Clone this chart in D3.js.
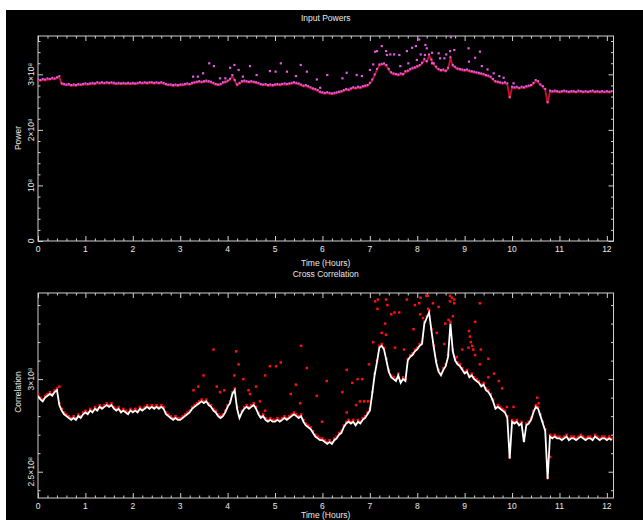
<!DOCTYPE html>
<html>
<head>
<meta charset="utf-8">
<script src="https://cdn.jsdelivr.net/npm/d3@7"></script>
<style>
  body { margin: 0; background: #fff; }
  text { font-family: "Liberation Sans", Arial, sans-serif; fill: #e8e8e8; }
</style>
</head>
<body>
<script>
// samples every 0.05 h, values in units of 1e8
const sampleStep = 0.05;

const powerLine = [
  2.89, 2.88, 2.90, 2.89, 2.91, 2.90, 2.92, 2.91, 2.93, 2.95, 2.82, 2.81, 2.80, 2.81, 2.79, 2.80, 2.79, 2.81, 2.80, 2.81,
  2.82, 2.81, 2.82, 2.83, 2.82, 2.84, 2.83, 2.84, 2.83, 2.84, 2.83, 2.84, 2.83, 2.82, 2.83, 2.82, 2.83, 2.82, 2.83, 2.82,
  2.83, 2.82, 2.83, 2.84, 2.83, 2.84, 2.83, 2.84, 2.84, 2.83, 2.84, 2.83, 2.84, 2.83, 2.81, 2.80, 2.80, 2.79, 2.80, 2.79,
  2.80, 2.80, 2.81, 2.82, 2.81, 2.83, 2.84, 2.85, 2.86, 2.85, 2.86, 2.87, 2.86, 2.85, 2.83, 2.81, 2.80, 2.81, 2.84, 2.85,
  2.87, 2.90, 2.97, 2.88, 2.80, 2.83, 2.86, 2.87, 2.86, 2.85, 2.86, 2.85, 2.84, 2.83, 2.81, 2.80, 2.81, 2.79, 2.80, 2.79,
  2.80, 2.81, 2.80, 2.81, 2.82, 2.81, 2.82, 2.83, 2.84, 2.83, 2.82, 2.80, 2.78, 2.79, 2.77, 2.75, 2.73, 2.72, 2.70, 2.67,
  2.66, 2.65, 2.66, 2.65, 2.64, 2.65, 2.66, 2.67, 2.68, 2.70, 2.72, 2.71, 2.73, 2.75, 2.74, 2.76, 2.75, 2.77, 2.78, 2.79,
  2.83, 2.89, 2.98, 3.08, 3.16, 3.17, 3.18, 3.15, 3.08, 3.02, 3.00, 2.99, 2.98, 3.00, 2.99, 3.04, 3.05, 3.08, 3.10, 3.11,
  3.13, 3.15, 3.19, 3.26, 3.22, 3.34, 3.25, 3.18, 3.12, 3.08, 3.06, 3.07, 3.05, 3.10, 3.29, 3.15, 3.12, 3.09, 3.08, 3.07,
  3.06, 3.07, 3.05, 3.04, 3.03, 3.02, 3.01, 3.00, 2.99, 2.97, 2.96, 2.94, 2.90, 2.86, 2.85, 2.84, 2.83, 2.84, 2.82, 2.57,
  2.76, 2.75, 2.76, 2.74, 2.76, 2.75, 2.77, 2.78, 2.79, 2.83, 2.88, 2.86, 2.80, 2.77, 2.72, 2.48, 2.69, 2.68, 2.69, 2.68,
  2.67, 2.68, 2.69, 2.68, 2.67, 2.68, 2.68, 2.67, 2.69, 2.68, 2.67, 2.68, 2.67, 2.68, 2.69, 2.67, 2.68, 2.67, 2.68, 2.67,
  2.68, 2.67, 2.68
];

const powerOutT = [3.61, 3.71, 4.05, 4.14, 4.47, 4.23, 4.89, 5.01, 5.12, 5.25, 5.54, 5.67, 5.88, 6.10, 3.27, 3.37, 3.48,
  3.84, 3.95, 4.32, 4.61, 5.44, 5.95, 7.25, 7.11, 7.15, 7.34, 7.36, 7.43, 7.51, 7.62, 7.78, 7.89, 7.97, 8.04, 8.07, 8.17,
  8.20, 8.31, 8.45, 8.57, 8.69, 8.78, 8.71, 9.08, 9.22, 9.32, 9.09, 9.36, 9.48, 9.61, 9.73, 9.82, 10.03, 7.07, 7.00, 6.83,
  6.72, 6.51, 6.42, 8.48, 8.61, 8.16, 7.99, 7.64, 7.81, 8.31];
const powerOutV = [3.20, 3.15, 3.12, 3.17, 3.15, 3.08, 3.06, 3.05, 3.20, 3.05, 3.17, 3.05, 2.91, 2.99, 2.96, 2.96, 3.02,
  2.93, 2.93, 2.96, 2.99, 2.97, 2.76, 3.51, 3.41, 3.42, 3.42, 3.35, 3.36, 3.36, 3.35, 3.42, 3.48, 3.51, 3.63, 3.36, 3.53,
  3.47, 3.39, 3.38, 3.29, 3.42, 3.44, 3.67, 3.47, 3.30, 3.41, 3.23, 3.15, 3.09, 3.02, 2.97, 2.94, 2.84, 3.18, 3.08, 2.97,
  2.99, 3.03, 2.93, 3.29, 3.36, 3.35, 3.26, 3.15, 3.20, 3.20];

const corrLine = [
  2.91, 2.89, 2.88, 2.90, 2.91, 2.92, 2.91, 2.93, 2.94, 2.86, 2.83, 2.81, 2.80, 2.79, 2.78, 2.79, 2.78, 2.80, 2.79, 2.81,
  2.82, 2.81, 2.83, 2.82, 2.84, 2.83, 2.85, 2.84, 2.85, 2.86, 2.85, 2.86, 2.84, 2.83, 2.84, 2.82, 2.83, 2.82, 2.81, 2.83,
  2.82, 2.83, 2.82, 2.84, 2.83, 2.84, 2.85, 2.84, 2.85, 2.84, 2.85, 2.84, 2.85, 2.84, 2.81, 2.80, 2.79, 2.78, 2.79, 2.78,
  2.78, 2.79, 2.80, 2.81, 2.82, 2.84, 2.85, 2.86, 2.87, 2.88, 2.87, 2.88, 2.86, 2.85, 2.83, 2.82, 2.80, 2.79, 2.80, 2.82,
  2.85, 2.87, 2.92, 2.94, 2.84, 2.79, 2.82, 2.84, 2.85, 2.84, 2.85, 2.86, 2.84, 2.81, 2.79, 2.80, 2.78, 2.77, 2.78, 2.77,
  2.77, 2.78, 2.77, 2.78, 2.79, 2.78, 2.79, 2.80, 2.81, 2.80, 2.79, 2.80, 2.77, 2.75, 2.74, 2.73, 2.71, 2.69, 2.68, 2.67,
  2.67, 2.66, 2.65, 2.66, 2.65, 2.67, 2.68, 2.70, 2.71, 2.74, 2.76, 2.77, 2.76, 2.77, 2.75, 2.77, 2.76, 2.78, 2.79, 2.81,
  2.83, 2.92, 3.02, 3.09, 3.17, 3.18, 3.16, 3.10, 3.04, 3.01, 3.00, 2.99, 3.02, 2.98, 3.00, 2.99, 3.10, 3.12, 3.13, 3.15,
  3.16, 3.18, 3.19, 3.30, 3.33, 3.36, 3.26, 3.17, 3.09, 3.04, 3.02, 3.05, 3.07, 3.12, 3.30, 3.15, 3.10, 3.08, 3.07, 3.05,
  3.03, 3.04, 3.01, 3.02, 3.00, 2.99, 2.98, 2.96, 2.97, 2.94, 2.93, 2.91, 2.88, 2.84, 2.85, 2.84, 2.83, 2.82, 2.79, 2.57,
  2.77, 2.76, 2.77, 2.75, 2.76, 2.66, 2.75, 2.76, 2.78, 2.82, 2.85, 2.84, 2.80, 2.76, 2.72, 2.46, 2.69, 2.68, 2.69, 2.68,
  2.68, 2.67, 2.68, 2.69, 2.67, 2.68, 2.68, 2.67, 2.68, 2.69, 2.68, 2.67, 2.68, 2.68, 2.67, 2.69, 2.68, 2.67, 2.68, 2.68,
  2.67, 2.68, 2.67
];

const corrOutT = [5.55, 5.67, 5.88, 5.99, 6.09, 6.42, 6.51, 6.63, 6.74, 6.84, 6.79, 6.71, 6.51, 6.88, 6.96, 6.98, 7.07,
  7.11, 7.17, 7.25, 7.34, 7.32, 7.34, 7.37, 7.45, 7.52, 7.62, 7.53, 7.72, 7.78, 7.92, 7.95, 8.04, 8.07, 8.06, 8.12, 8.19,
  8.22, 8.23, 8.33, 8.45, 8.41, 8.57, 8.59, 8.66, 8.69, 8.73, 8.78, 8.69, 8.78, 8.75, 8.83, 8.95, 9.09, 9.11, 9.13, 9.16,
  9.08, 9.18, 9.22, 9.22, 9.34, 9.32, 9.32, 9.50, 9.62, 9.72, 9.79, 9.50, 9.89, 10.03, 10.53, 10.56, 10.80, 7.16, 0.45,
  3.49, 3.38, 3.28, 3.77, 3.84, 3.93, 4.23, 4.14, 4.33, 4.44, 4.47, 4.60, 4.68, 4.79, 4.89, 5.02, 5.12, 5.33, 5.44, 5.53,
  4.79, 3.70, 4.18];
const corrOutV = [3.18, 3.06, 2.91, 2.77, 2.99, 2.93, 3.05, 2.98, 3.00, 3.00, 2.88, 2.86, 2.82, 2.88, 2.88, 3.08, 3.20,
  3.42, 3.43, 3.25, 3.24, 3.30, 3.43, 3.40, 3.35, 3.36, 3.36, 3.17, 3.16, 3.43, 3.27, 3.40, 3.41, 3.44, 3.35, 3.33, 3.45,
  3.45, 3.38, 3.41, 3.39, 3.25, 3.19, 3.30, 3.32, 3.45, 3.44, 3.43, 3.42, 3.41, 3.34, 3.12, 3.16, 3.26, 3.23, 3.20, 3.18,
  3.17, 3.16, 3.31, 3.13, 3.16, 3.41, 3.08, 3.11, 3.03, 2.99, 2.95, 3.01, 2.85, 2.85, 2.90, 2.87, 2.58, 3.38, 2.96,
  3.02, 2.96, 2.94, 2.96, 2.93, 2.94, 3.08, 3.02, 3.00, 2.94, 2.92, 2.96, 2.88, 3.02, 3.07, 3.07, 3.09, 2.92, 2.97, 2.87,
  2.83, 3.16, 3.15];

const timeDomain = [0, 12.14];
const xMajor = [0, 1, 2, 3, 4, 5, 6, 7, 8, 9, 10, 11, 12];
const powerDomain = [0, 3.69];
const powerTicks = [0, 1, 2, 3];
const powerTickLabels = ["0", "10⁸", "2×10⁸", "3×10⁸"];
const corrDomain = [2.358, 3.465];
const corrTicks = [2.5, 3];
const corrTickLabels = ["2.5×10⁸", "3×10⁸"];

const W = 643, H = 520;
const svg = d3.select("body").append("svg").attr("width", W).attr("height", H);
svg.append("rect").attr("x", 6).attr("y", 10).attr("width", W - 6).attr("height", H - 10).attr("fill", "#000");

const left = 38, right = 613.5;
const x = d3.scaleLinear().domain(timeDomain).range([left, right]);
const xMinor = d3.range(0, 12.15, 0.2).filter(v => Math.abs(v - Math.round(v)) > 0.01);

function panel(top, bottom, yDomain, yMajor, yLabels, yMinorStep, clipId) {
	const y = d3.scaleLinear().domain(yDomain).range([bottom, top]);
	const g = svg.append("g");
	const yMinor = d3.range(Math.ceil(yDomain[0] / yMinorStep) * yMinorStep, yDomain[1], yMinorStep)
		.filter(v => !yMajor.some(m => Math.abs(m - v) < 1e-6));

	const tickStyle = sel => {
		sel.select(".domain").remove();
		sel.selectAll("line").attr("stroke", "#d0d0d0");
	};
	const axes = [
		[d3.axisBottom(x), bottom, xMajor, xMinor, "x"],
		[d3.axisTop(x), top, xMajor, xMinor, "x"],
		[d3.axisLeft(y), left, yMajor, yMinor, "y"],
		[d3.axisRight(y), right, yMajor, yMinor, "y"]
	];
	axes.forEach(([ax, pos, major, minor, dir]) => {
		const tr = dir === "x" ? `translate(0,${pos})` : `translate(${pos},0)`;
		g.append("g").attr("transform", tr)
			.call(ax.tickValues(major).tickSize(-5).tickFormat(""))
			.call(tickStyle);
		g.append("g").attr("transform", tr)
			.call(ax.tickValues(minor).tickSize(-2.5).tickFormat(""))
			.call(tickStyle);
	});

	g.append("rect")
		.attr("x", left).attr("y", top)
		.attr("width", right - left).attr("height", bottom - top)
		.attr("fill", "none").attr("stroke", "#d0d0d0").attr("stroke-width", 1);

	// x tick labels
	g.selectAll(".xl").data(xMajor).join("text")
		.attr("x", d => x(d)).attr("y", bottom + 11)
		.attr("text-anchor", "middle").attr("font-size", "8.5px")
		.text(d => d);
	// y tick labels (rotated)
	g.selectAll(".yl").data(yMajor).join("text")
		.attr("transform", d => `translate(${left - 4},${y(d)}) rotate(-90)`)
		.attr("text-anchor", "middle").attr("font-size", "8.5px")
		.text((d, i) => yLabels[i]);

	svg.append("clipPath").attr("id", clipId)
		.append("rect").attr("x", left).attr("y", top - 3)
		.attr("width", right - left).attr("height", bottom - top + 3);

	const plot = svg.append("g").attr("clip-path", `url(#${clipId})`);
	return { y, plot };
}

// ---- top panel: input powers
const p1 = panel(36, 241, powerDomain, powerTicks, powerTickLabels, 0.2, "c1");
const line1 = d3.line().x((d, i) => x(i * sampleStep)).y(d => p1.y(d));
p1.plot.append("path").datum(powerLine)
	.attr("d", line1).attr("fill", "none")
	.attr("stroke", "#c8102e").attr("stroke-width", 1.8);
p1.plot.selectAll(".pm").data(powerLine).join("rect")
	.attr("x", (d, i) => x(i * sampleStep) - 1).attr("y", d => p1.y(d) - 2)
	.attr("width", 2).attr("height", 2).attr("fill", "#e35ce0");
p1.plot.selectAll(".po").data(powerOutV).join("rect")
	.attr("x", (d, i) => x(powerOutT[i]) - 1).attr("y", d => p1.y(d) - 1)
	.attr("width", 2.2).attr("height", 2.2).attr("fill", "#e35ce0");

// ---- bottom panel: cross correlation
const p2 = panel(293, 498, corrDomain, corrTicks, corrTickLabels, 0.1, "c2");
const line2 = d3.line().x((d, i) => x(i * sampleStep)).y(d => p2.y(d));
p2.plot.selectAll(".cm").data(corrLine).join("rect")
	.attr("x", (d, i) => x(i * sampleStep) - 1.2).attr("y", d => p2.y(d) - 3)
	.attr("width", 2.5).attr("height", 2.5).attr("fill", "#ff1010");
p2.plot.selectAll(".co").data(corrOutV).join("rect")
	.attr("x", (d, i) => x(corrOutT[i]) - 1.2).attr("y", d => p2.y(d) - 1.2)
	.attr("width", 2.5).attr("height", 2.5).attr("fill", "#ff1010");
p2.plot.append("path").datum(corrLine)
	.attr("d", line2).attr("fill", "none")
	.attr("stroke", "#ffffff").attr("stroke-width", 1.8);

// ---- titles
const cx = (left + right) / 2;
const title = (txt, yy) => svg.append("text").attr("x", cx).attr("y", yy)
	.attr("text-anchor", "middle").attr("font-size", "8.5px").text(txt);
title("Input Powers", 21);
title("Time (Hours)", 266);
title("Cross Correlation", 277);
title("Time (Hours)", 517.5);

svg.append("text").attr("transform", "translate(21,138) rotate(-90)")
	.attr("text-anchor", "middle").attr("font-size", "8.5px").text("Power");
svg.append("text").attr("transform", "translate(21,392) rotate(-90)")
	.attr("text-anchor", "middle").attr("font-size", "8.5px").text("Correlation");
</script>
</body>
</html>
